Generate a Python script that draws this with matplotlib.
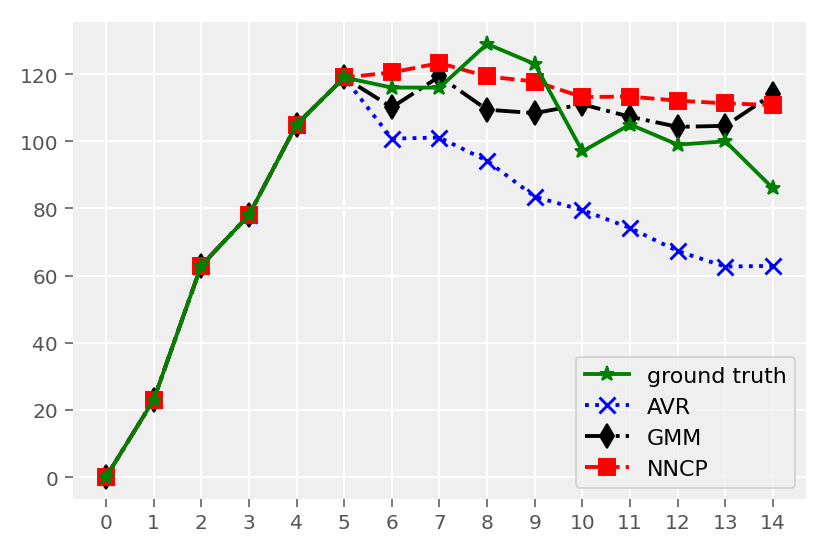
import numpy as np
import matplotlib.pyplot as plt

# data
steps = list(range(15))
ground_truth = [0, 23, 63, 78, 105, 119, 116, 116, 129, 123, 97, 105, 99, 100, 86]
avr = [0, 23, 63, 78, 105, 119, 100.8, 101.1, 94.2, 83.5, 79.5, 74.2, 67.3, 62.7, 62.9]
gmm = [0, 23, 63, 78, 105, 119, 110.1, 119.3, 109.4, 108.4, 111.0, 107.3, 104.3, 104.6, 114.1]
nncp = [0, 23, 63, 78, 105, 119, 120.5, 123.3, 119.3, 117.8, 113.2, 113.3, 112.1, 111.3, 110.8]

plt.rcParams['font.family'] = ['DejaVu Sans']
plt.rcParams['font.size'] = 10

fig, ax = plt.subplots(figsize=(6, 3.99), dpi=138.33)
fig.subplots_adjust(left=0.0875, right=0.9715, top=0.958, bottom=0.0946)

ax.set_facecolor('#efefef')
for s in ax.spines.values():
    s.set_visible(False)
ax.grid(color='white', linewidth=1.0)
ax.set_axisbelow(True)
ax.tick_params(colors='#555555', labelcolor='#555555', length=4, labelsize=10.5)

ax.plot(steps, avr, 'b:', marker='x', markersize=8, markeredgewidth=1.5, linewidth=2, label='AVR', zorder=2)
ax.plot(steps, gmm, 'k-.', marker='d', markersize=9, linewidth=2, label='GMM', zorder=3)
ax.plot(steps, nncp, 'r--', marker='s', markersize=8, linewidth=2, label='NNCP', zorder=4)
ax.plot(steps, ground_truth, 'g-', marker='*', markersize=8, linewidth=2, label='ground truth', zorder=6)

ax.set_xticks(steps)
ax.set_yticks(np.arange(0, 121, 20))

handles, labels = ax.get_legend_handles_labels()
order = [3, 0, 1, 2]
leg = ax.legend([handles[i] for i in order], [labels[i] for i in order],
                loc='lower right', fontsize=11.5, frameon=True, fancybox=True)
leg.get_frame().set_facecolor('#efefef')
leg.get_frame().set_edgecolor('#cccccc')

fig.savefig('out.png', dpi=138.33)
